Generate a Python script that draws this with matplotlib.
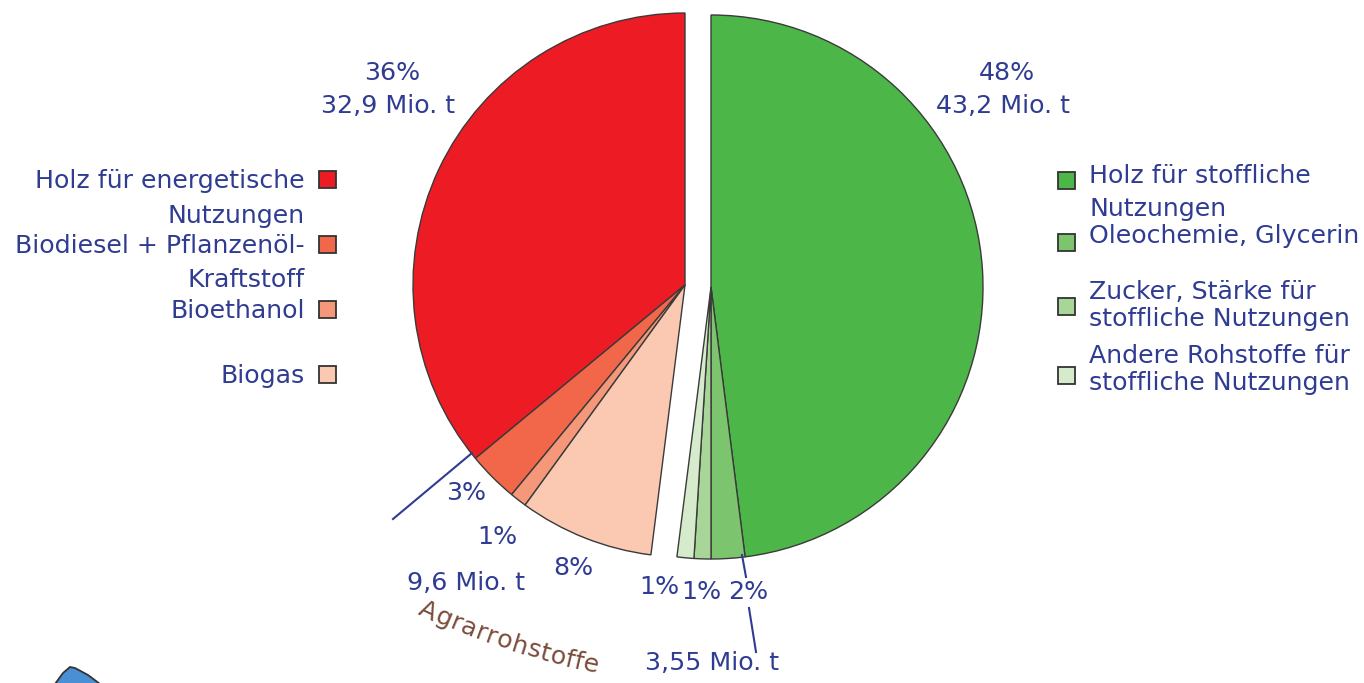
import numpy as np
import matplotlib
matplotlib.use('Agg')
import matplotlib.pyplot as plt
from matplotlib.patches import Rectangle, Polygon
from matplotlib.font_manager import FontProperties
from matplotlib.textpath import TextToPath

W, H = 1364, 683

# energetische Nutzung: linke Hälfte, ab 12 Uhr gegen den Uhrzeigersinn
energy_labels = ['Holz für energetische\nNutzungen', 'Biodiesel + Pflanzenöl-\nKraftstoff',
                 'Bioethanol', 'Biogas']
energy_share = [36, 3, 1, 8]
energy_colors = ['#ed1c24', '#f26649', '#f5987a', '#fbc8b2']

# stoffliche Nutzung: rechte Hälfte, ab 12 Uhr im Uhrzeigersinn
material_labels = ['Holz für stoffliche\nNutzungen', 'Oleochemie, Glycerin',
                   'Zucker, Stärke für\nstoffliche Nutzungen', 'Andere Rohstoffe für\nstoffliche Nutzungen']
material_share = [48, 2, 1, 1]
material_colors = ['#4cb748', '#7dc46e', '#a8d699', '#d5ebcc']

energy_wood_total = '32,9 Mio. t'
material_wood_total = '43,2 Mio. t'
energy_agrar_total = '9,6 Mio. t'
material_agrar_total = '3,55 Mio. t'
agrar_title = 'Agrarrohstoffe'

blue = '#2f3c92'
brown = '#7a4c3a'
edge = '#3a3a3a'
fs = 18.2

plt.rcParams['font.family'] = 'DejaVu Sans'

fig = plt.figure(figsize=(W / 100, H / 100), dpi=100)
ax = fig.add_axes([0, 0, 1, 1])

def Y(y):
    # pixel row -> data y
    return H - y

radius = 272
wp = dict(edgecolor=edge, linewidth=1.0)
ax.pie([v / 100 for v in material_share], colors=material_colors, startangle=90,
       counterclock=False, normalize=False, center=(711, Y(287)), radius=radius,
       wedgeprops=wp)
ax.pie([v / 100 for v in energy_share], colors=energy_colors, startangle=90,
       counterclock=True, normalize=False, center=(685, Y(285)), radius=radius,
       wedgeprops=wp)

ax.set_xlim(0, W)
ax.set_ylim(0, H)
ax.set_aspect('equal')
ax.axis('off')

# legend, left side (right aligned text, box to the right)
left_baselines = [188, 253, 318, 383]
left_pitch = [35, 34, 0, 0]
for lab, col, yb, p in zip(energy_labels, energy_colors, left_baselines, left_pitch):
    for i, line in enumerate(lab.split('\n')):
        ax.text(305, Y(yb + i * p), line, ha='right', va='baseline', color=blue, fontsize=fs)
    ax.add_patch(Rectangle((319, Y(yb)), 17, 17, facecolor=col, edgecolor='#333333', lw=1.3))

# legend, right side
right_baselines = [183, 243, 299, 363]
right_pitch = [33, 0, 27, 27]
right_box = [180, 242, 306, 375]
for lab, col, yb, p, yc in zip(material_labels, material_colors, right_baselines, right_pitch, right_box):
    for i, line in enumerate(lab.split('\n')):
        ax.text(1089, Y(yb + i * p), line, ha='left', va='baseline', color=blue, fontsize=fs)
    ax.add_patch(Rectangle((1058, Y(yc + 8.5)), 17, 17, facecolor=col, edgecolor='#333333', lw=1.3))

# wedge labels
def lab(x, y, s, **kw):
    ax.text(x, Y(y), s, ha='center', va='center', color=blue, fontsize=fs, **kw)

lab(392, 73, f'{energy_share[0]}%')
lab(388, 106, energy_wood_total)
lab(1007, 73, f'{material_share[0]}%')
lab(1003, 106, material_wood_total)

lab(466, 493, f'{energy_share[1]}%')
lab(497, 537, f'{energy_share[2]}%')
lab(573, 568, f'{energy_share[3]}%')
lab(466, 583, energy_agrar_total)

lab(659, 587, f'{material_share[3]}%')
lab(701, 592, f'{material_share[2]}%')
lab(748, 592, f'{material_share[1]}%')
lab(712, 663, material_agrar_total)

# leader lines
ax.plot([472, 393], [Y(453), Y(519)], color=blue, lw=1.5)
ax.plot([742, 746], [Y(555), Y(577)], color=blue, lw=1.5)
ax.plot([749, 756], [Y(608), Y(652)], color=blue, lw=1.5)

# curved caption along an arc below the agrarian wedges
cx, cy, R = 746, -77, 758
phi0, phi1 = np.radians(114.8), np.radians(101.8)
fp = FontProperties(family='DejaVu Sans', size=fs)
t2p = TextToPath()
widths = np.array([t2p.get_text_width_height_descent(c, fp, ismath=False)[0] for c in agrar_title])
centers = np.cumsum(widths) - widths / 2
frac = (centers - centers[0]) / (centers[-1] - centers[0])
for c, f in zip(agrar_title, frac):
    phi = phi0 + (phi1 - phi0) * f
    x = cx + R * np.cos(phi)
    y = cy + R * np.sin(phi)
    ax.text(x, Y(y), c, rotation=90 - np.degrees(phi), rotation_mode='anchor',
            ha='center', va='center', color=brown, fontsize=fs)

# tip of the next graphic peeking in at the bottom
ax.add_patch(Polygon([(55, Y(684)), (63, Y(673)), (70, Y(667)), (75, Y(668)),
                      (88, Y(675)), (100, Y(684))], closed=True,
                     facecolor='#4a8ed3', edgecolor='#333333', lw=1.3))

fig.savefig('out.png', dpi=100)
